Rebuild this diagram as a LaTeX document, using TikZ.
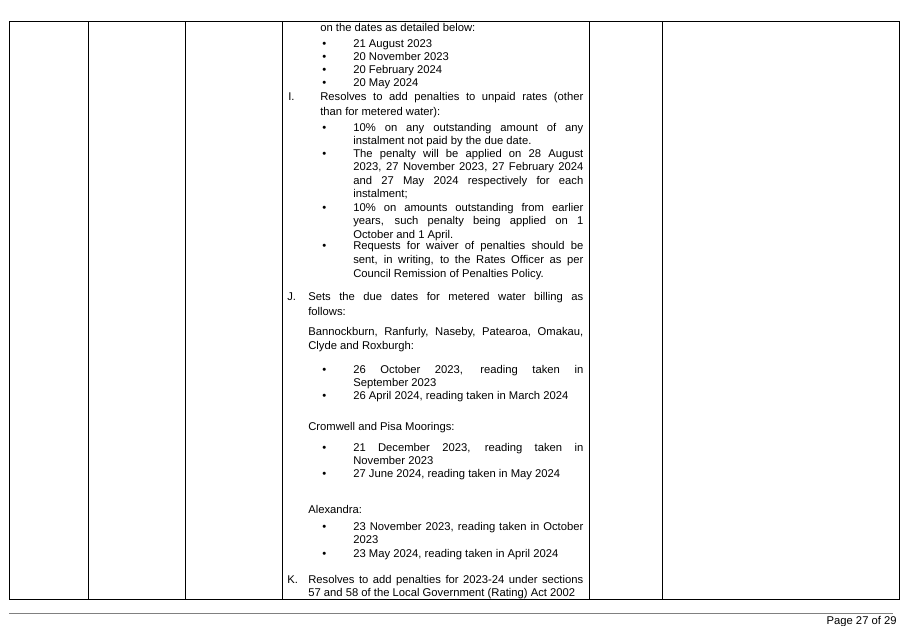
\documentclass[tikz,border=0pt]{standalone}
\usepackage{fontspec}
\setmainfont{Liberation Sans}
\usetikzlibrary{positioning}
\tikzset{
  txt/.style={anchor=base west,inner sep=0pt,font=\fontsize{6.4}{7.6}\selectfont},
  rule/.style={line width=0.5pt},
}
% justified line of a given width (cm)
\newcommand{\jline}[2]{\makebox[#1cm][s]{#2}}
\begin{document}
\begin{tikzpicture}[x=0.02cm,y=-0.02cm]
    \useasboundingbox (0,0) rectangle (907,626);
    % table frame
    \draw[rule] (9,21) rectangle (899,599);
    \foreach \c in {88,185,282,589,662}
        \draw[rule] (\c,21) -- (\c,599);
    \draw[gray,line width=0.4pt] (9,613) -- (893,613);
    \node[txt,anchor=base east] (page) at (897,624) {Page 27 of 29};
    % item I
    \node[txt] (l1) at (320,31) {on the dates as detailed below:};
    \foreach \y/\t [count=\i] in {47/21 August 2023,60/20 November 2023,73/20 February 2024,86/20 May 2024}{
        \node[txt] (bi\i) at (322,\y) {\textbullet};
        \node[txt] (di\i) at (353,\y) {\t};
    }
    \node[txt] (ni) at (288,100) {I.};
    \node[txt] (l2) at (320,100) {\jline{5.26}{Resolves to add penalties to unpaid rates (other}};
    \node[txt] (l3) at (320,115) {than for metered water):};
    \node[txt] (b1) at (322,131) {\textbullet};
    \node[txt] (p1) at (353,131) {\jline{4.6}{10\% on any outstanding amount of any}};
    \node[txt] (p2) at (353,144) {instalment not paid by the due date.};
    \node[txt] (b2) at (322,157) {\textbullet};
    \node[txt] (p3) at (353,157) {\jline{4.6}{The penalty will be applied on 28 August}};
    \node[txt] (p4) at (353,170) {\jline{4.6}{2023, 27 November 2023, 27 February 2024}};
    \node[txt] (p5) at (353,184) {\jline{4.6}{and 27 May 2024 respectively for each}};
    \node[txt] (p6) at (353,197) {instalment;};
    \node[txt] (b3) at (322,211) {\textbullet};
    \node[txt] (p7) at (353,211) {\jline{4.6}{10\% on amounts outstanding from earlier}};
    \node[txt] (p8) at (353,224) {\jline{4.6}{years, such penalty being applied on 1}};
    \node[txt] (p9) at (353,238) {October and 1 April.};
    \node[txt] (b4) at (322,249) {\textbullet};
    \node[txt] (p10) at (353,249) {\jline{4.6}{Requests for waiver of penalties should be}};
    \node[txt] (p11) at (353,263) {\jline{4.6}{sent, in writing, to the Rates Officer as per}};
    \node[txt] (p12) at (353,277) {Council Remission of Penalties Policy.};
    % item J
    \node[txt] (nj) at (287,300) {J.};
    \node[txt] (j1) at (308,300) {\jline{5.5}{Sets the due dates for metered water billing as}};
    \node[txt] (j2) at (308,315) {follows:};
    \node[txt] (j3) at (308,335) {\jline{5.5}{Bannockburn, Ranfurly, Naseby, Patearoa, Omakau,}};
    \node[txt] (j4) at (308,349) {Clyde and Roxburgh:};
    \node[txt] (b5) at (322,373) {\textbullet};
    \node[txt] (j5) at (353,373) {\jline{4.6}{26 October 2023, reading taken in}};
    \node[txt] (j6) at (353,386) {September 2023};
    \node[txt] (b6) at (322,399) {\textbullet};
    \node[txt] (j7) at (353,399) {26 April 2024, reading taken in March 2024};
    \node[txt] (j8) at (308,430) {Cromwell and Pisa Moorings:};
    \node[txt] (b7) at (322,451) {\textbullet};
    \node[txt] (j9) at (353,451) {\jline{4.6}{21 December 2023, reading taken in}};
    \node[txt] (j10) at (353,464) {November 2023};
    \node[txt] (b8) at (322,477) {\textbullet};
    \node[txt] (j11) at (353,477) {27 June 2024, reading taken in May 2024};
    \node[txt] (j12) at (308,513) {Alexandra:};
    \node[txt] (b9) at (322,530) {\textbullet};
    \node[txt] (j13) at (353,530) {\jline{4.6}{23 November 2023, reading taken in October}};
    \node[txt] (j14) at (353,543) {2023};
    \node[txt] (b10) at (322,557) {\textbullet};
    \node[txt] (j15) at (353,557) {23 May 2024, reading taken in April 2024};
    % item K
    \node[txt] (nk) at (287,583) {K.};
    \node[txt] (k1) at (308,583) {\jline{5.5}{Resolves to add penalties for 2023-24 under sections}};
    \node[txt] (k2) at (308,596) {57 and 58 of the Local Government (Rating) Act 2002};
\end{tikzpicture}
\end{document}
